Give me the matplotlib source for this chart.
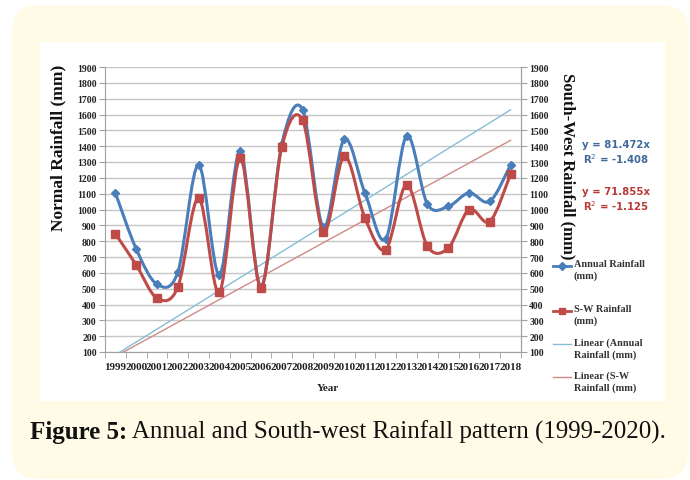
import matplotlib
matplotlib.use("Agg")
import matplotlib.pyplot as plt
import numpy as np
from matplotlib.path import Path
from matplotlib.patches import PathPatch, FancyBboxPatch
from matplotlib.lines import Line2D

years = [str(y) for y in range(1999, 2019)]
annual = [1105, 751, 528, 604, 1282, 587, 1367, 510, 1415, 1630,
          888, 1443, 1103, 815, 1464, 1034, 1019, 1105, 1051, 1282]
sw = [846, 650, 440, 509, 1072, 477, 1325, 507, 1394, 1563,
      861, 1337, 945, 747, 1156, 768, 756, 1000, 924, 1223]
slope_annual = 81.472
slope_sw = 71.855
yticks = list(range(100, 2000, 100))

C_BLUE = "#4A7EBB"
C_RED = "#BE4B48"
C_TBLUE = "#86BDD6"
C_TRED = "#CF8A88"
SERIF = "Liberation Serif"

W, H = 690, 481
fig = plt.figure(figsize=(W / 100, H / 100), dpi=100)
fig.patch.set_facecolor("white")

# cream rounded frame
bg = FancyBboxPatch((0.12, 0.01), 6.76, 4.74,
                    boxstyle="round,pad=0,rounding_size=0.27",
                    transform=fig.dpi_scale_trans, facecolor="#FFFBE6",
                    edgecolor="none", zorder=-10)
fig.add_artist(bg)
wb = FancyBboxPatch((0.40, 0.79), 6.25, 3.59, boxstyle="square,pad=0",
                    transform=fig.dpi_scale_trans, facecolor="white",
                    edgecolor="none", zorder=-9)
fig.add_artist(wb)

ax = fig.add_axes([105 / W, 1 - 353 / H, (521 - 105) / W, (353 - 68) / H])
ax.set_facecolor("none")
n = len(years)
x = np.arange(1, n + 1)
ax.set_xlim(0.5, n + 0.5)
ax.set_ylim(100, 1900)
ax.set_yticks(yticks)
ax.set_yticklabels([str(v) for v in yticks], fontfamily=SERIF, fontsize=7,
                   fontweight="bold", color="#222222")
ax.yaxis.grid(True, color="#C6C6C6", linewidth=1.0)
ax.set_axisbelow(True)
ax.set_xticks(x)
ax.set_xticklabels(years, fontfamily=SERIF, fontsize=8.0, fontweight="bold",
                   color="#222222")
ax.set_xticks(np.arange(0.5, n + 1), minor=True)
ax.tick_params(axis="x", which="major", length=0, pad=7)
ax.tick_params(axis="x", which="minor", length=4, color="#A0A0A0")
ax.tick_params(axis="y", length=4, color="#A0A0A0", pad=2)
for s in ["top"]:
    ax.spines[s].set_visible(False)
for s in ["left", "right", "bottom"]:
    ax.spines[s].set_color("#A0A0A0")


def smooth_path(xs, ys):
    pts = np.column_stack([xs, ys]).astype(float)
    verts = [pts[0]]
    codes = [Path.MOVETO]
    m = len(pts)
    for i in range(m - 1):
        p0 = pts[i - 1] if i > 0 else pts[i]
        p1 = pts[i]
        p2 = pts[i + 1]
        p3 = pts[i + 2] if i + 2 < m else pts[i + 1]
        c1 = p1 + (p2 - p0) / 6.0
        c2 = p2 - (p3 - p1) / 6.0
        verts += [c1, c2, p2]
        codes += [Path.CURVE4] * 3
    return Path(verts, codes)


# trendlines
ax.plot([1, n], [slope_annual * 1, slope_annual * n], color=C_TBLUE, lw=1.0, zorder=2)
ax.plot([1, n], [slope_sw * 1, slope_sw * n], color=C_TRED, lw=1.0, zorder=2)

ax.add_patch(PathPatch(smooth_path(x, annual), fill=False, edgecolor=C_BLUE,
                       lw=2.2, zorder=3))
ax.plot(x, annual, linestyle="none", marker="D", ms=4.2, color=C_BLUE, zorder=4)
ax.add_patch(PathPatch(smooth_path(x, sw), fill=False, edgecolor=C_RED,
                       lw=2.2, zorder=5))
ax.plot(x, sw, linestyle="none", marker="s", ms=6, color=C_RED, zorder=6)

ax2 = ax.twinx()
ax2.set_ylim(100, 1900)
ax2.set_yticks(yticks)
ax2.set_yticklabels([str(v) for v in yticks], fontfamily=SERIF, fontsize=7,
                    fontweight="bold", color="#222222")
ax2.tick_params(axis="y", length=4, color="#A0A0A0", pad=2)
for s in ["top", "left", "bottom"]:
    ax2.spines[s].set_visible(False)
ax2.spines["right"].set_color("#A0A0A0")

# axis titles
fig.text(58 / W, 1 - 148 / H, "Normal Rainfall (mm)", rotation=90, ha="center",
         va="center", fontfamily=SERIF, fontsize=12.5, fontweight="bold",
         color="#111111")
fig.text(568 / W, 1 - 166 / H, "South-West Rainfall (mm)", rotation=-90,
         ha="center", va="center", fontfamily=SERIF, fontsize=12,
         fontweight="bold", color="#111111")
fig.text(328 / W, 1 - 389 / H, "Year", ha="center", va="center",
         fontfamily=SERIF, fontsize=8, fontweight="bold", color="#222222")

# equations
fig.text(616 / W, 1 - 145 / H, "y = 81.472x", ha="center", va="center",
         fontsize=7.3, fontweight="bold", color="#3F6A9A")
fig.text(616 / W, 1 - 159 / H, "R$^2$ = -1.408", ha="center", va="center",
         fontsize=7.3, fontweight="bold", color="#3F6A9A")
fig.text(616 / W, 1 - 192 / H, "y = 71.855x", ha="center", va="center",
         fontsize=7.3, fontweight="bold", color="#B93A37")
fig.text(616 / W, 1 - 206 / H, "R$^2$ = -1.125", ha="center", va="center",
         fontsize=7.3, fontweight="bold", color="#B93A37")

# legend (manual)
leg = [
    (267, C_BLUE, "D", 4, 2.0, "Annual Rainfall\n(mm)"),
    (312, C_RED, "s", 5, 2.0, "S-W Rainfall\n(mm)"),
    (345, C_TBLUE, None, 0, 1.0, "Linear (Annual\nRainfall (mm)"),
    (378, C_TRED, None, 0, 1.0, "Linear (S-W\nRainfall (mm)"),
]
for yy, col, mk, ms, lw, lab in leg:
    yf = 1 - yy / H
    ln = Line2D([553 / W, 571 / W], [yf, yf], color=col, lw=lw,
                transform=fig.transFigure)
    fig.add_artist(ln)
    if mk:
        fig.add_artist(Line2D([562 / W], [yf], marker=mk, ms=ms, color=col,
                              linestyle="none", transform=fig.transFigure))
    fig.text(574 / W, yf + 7 / H, lab, ha="left", va="top", fontfamily=SERIF,
             fontsize=7.4, fontweight="bold", color="#333333", linespacing=1.35)

# caption
t1 = fig.text(30 / W, 1 - 432 / H, "Figure 5:", ha="left", va="center",
              fontfamily=SERIF, fontsize=18, fontweight="bold", color="#111111")
ax.annotate(" Annual and South-west Rainfall pattern (1999-2020).",
            xy=(1, 0.5), xycoords=t1, ha="left", va="center",
            fontfamily=SERIF, fontsize=18, color="#111111",
            annotation_clip=False)

fig.savefig("out.png", dpi=100)
